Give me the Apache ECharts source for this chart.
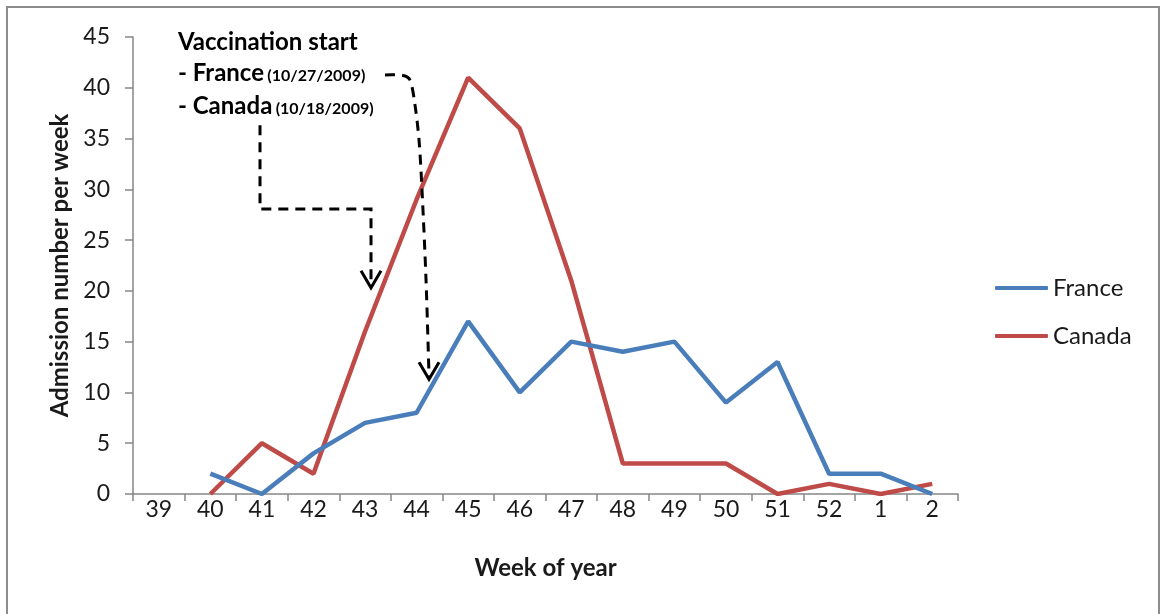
<!DOCTYPE html>
<html>
<head>
<meta charset="utf-8">
<script src="https://cdn.jsdelivr.net/npm/echarts@6/dist/echarts.min.js"></script>
<style>
  html, body { margin: 0; padding: 0; background: #fff; }
  #chart { width: 1160px; height: 614px; }
</style>
</head>
<body>
<div id="chart"></div>
<script>
// Week-of-year categories (autumn 2009 to January 2010)
const weeks = ['39', '40', '41', '42', '43', '44', '45', '46', '47', '48', '49', '50', '51', '52', '1', '2'];
// Weekly admissions
const france = [null, 2, 0, 4, 7, 8, 17, 10, 15, 14, 15, 9, 13, 2, 2, 0];
const canada = [null, 0, 5, 2, 16, 29, 41, 36, 21, 3, 3, 3, 0, 1, 0, 1];
const yTicks = { min: 0, max: 45, interval: 5 };

// Vaccination-start callout arrows, in (category index, value) units
const canadaArrow = [[1.963, 36.3], [1.963, 28.06], [4.116, 28.06], [4.116, 20.6]];
const franceArrow = [[4.387, 41.26], [4.736, 41.21], [4.872, 40.76], [4.969, 38.3], [5.047, 34.86],
                     [5.105, 29.93], [5.183, 21.07], [5.241, 11.6]];
const noteAnchor = [0.372, 44.4];

const FONT = 'Lato, "Open Sans", sans-serif';
const AXIS = '#868686';
const TEXT = '#1a1a1a';

const chart = echarts.init(document.getElementById('chart'), null, { renderer: 'canvas' });

chart.setOption({
  animation: false,
  backgroundColor: '#ffffff',
  textStyle: { fontFamily: FONT },
  grid: { left: 133, right: 202, top: 37, bottom: 120, containLabel: false },
  legend: {
    orient: 'vertical',
    left: 990,
    top: 271,
    itemWidth: 53,
    itemHeight: 4,
    itemGap: 24,
    icon: 'roundRect',
    textStyle: { fontFamily: FONT, fontSize: 24, color: TEXT },
    data: ['France', 'Canada']
  },
  xAxis: {
    type: 'category',
    data: weeks,
    boundaryGap: true,
    name: 'Week of year',
    nameLocation: 'middle',
    nameGap: 62,
    nameTextStyle: { fontFamily: FONT, fontSize: 24, fontWeight: 'bold', color: TEXT },
    axisLine: { show: true, lineStyle: { color: AXIS, width: 1.5 } },
    axisTick: { show: true, length: 7, lineStyle: { color: AXIS, width: 1.5 } },
    axisLabel: { interval: 0, margin: 4, fontFamily: FONT, fontSize: 23, color: TEXT },
    splitLine: { show: false }
  },
  yAxis: {
    type: 'value',
    min: yTicks.min,
    max: yTicks.max,
    interval: yTicks.interval,
    name: 'Admission number per week',
    nameLocation: 'middle',
    nameGap: 61,
    nameTextStyle: { fontFamily: FONT, fontSize: 24, fontWeight: 'bold', color: TEXT },
    axisLine: { show: true, lineStyle: { color: AXIS, width: 1.5 } },
    axisTick: { show: true, length: 8, lineStyle: { color: AXIS, width: 1.5 } },
    axisLabel: { margin: 23, fontFamily: FONT, fontSize: 23, color: TEXT },
    splitLine: { show: false }
  },
  series: [
    {
      name: 'France',
      type: 'line',
      data: france,
      symbol: 'none',
      connectNulls: false,
      lineStyle: { color: '#4A7EBB', width: 4.5 },
      itemStyle: { color: '#4A7EBB' },
      z: 3
    },
    {
      name: 'Canada',
      type: 'line',
      data: canada,
      symbol: 'none',
      connectNulls: false,
      lineStyle: { color: '#BE4B48', width: 4.5 },
      itemStyle: { color: '#BE4B48' },
      z: 2
    }
  ]
});

// Linear map from (fractional category index, value) to pixels, anchored on the grid's axes
const a0 = chart.convertToPixel({ gridIndex: 0 }, [0, yTicks.min]);
const a1 = chart.convertToPixel({ gridIndex: 0 }, [1, yTicks.max]);
function px(p) {
  return [
    a0[0] + p[0] * (a1[0] - a0[0]),
    a0[1] + (p[1] - yTicks.min) / (yTicks.max - yTicks.min) * (a1[1] - a0[1])
  ];
}

function arrowHead(tip) {
  return [[tip[0] - 10, tip[1] - 17], [tip[0], tip[1]], [tip[0] + 10, tip[1] - 17]];
}

const cPts = canadaArrow.map(px);
const fPts = franceArrow.map(px);
const cTip = cPts[cPts.length - 1].slice(); cTip[1] += 3;
const fTip = fPts[fPts.length - 1].slice(); fTip[1] += 3;
const note = px(noteAnchor);

const dashStyle = { stroke: '#000', lineWidth: 3, lineDash: [10, 7], fill: null };
const headStyle = { stroke: '#000', lineWidth: 3, fill: null };
const rich = {
  b: { fontFamily: FONT, fontSize: 24, fontWeight: 'bold', fill: '#000', color: '#000' },
  s: { fontFamily: FONT, fontSize: 16, fontWeight: 'bold', fill: '#000', color: '#000', padding: [5, 0, 0, 0] }
};

chart.setOption({
  graphic: [
    {
      type: 'rect',
      shape: { x: 7, y: 7, width: 1152, height: 640 },
      style: { stroke: '#8c8c8c', lineWidth: 2, fill: null },
      silent: true,
      z: 100
    },
    { type: 'polyline', shape: { points: cPts }, style: dashStyle, z: 10 },
    { type: 'polyline', shape: { points: arrowHead(cTip) }, style: headStyle, z: 10 },
    { type: 'polyline', shape: { points: fPts, smooth: 0.3 }, style: dashStyle, z: 10 },
    { type: 'polyline', shape: { points: arrowHead(fTip) }, style: headStyle, z: 10 },
    {
      type: 'text',
      x: note[0], y: note[1] - 13,
      style: {
        text: 'Vaccination start',
        fontFamily: FONT, fontSize: 24, fontWeight: 'bold', fill: '#000'
      },
      z: 10
    },
    {
      type: 'text',
      x: note[0], y: note[1] + 18,
      style: { text: '{b|- France} {s|(10/27/2009)}', rich: rich },
      z: 10
    },
    {
      type: 'text',
      x: note[0], y: note[1] + 51,
      style: { text: '{b|- Canada} {s|(10/18/2009)}', rich: rich },
      z: 10
    }
  ]
});
</script>
</body>
</html>
